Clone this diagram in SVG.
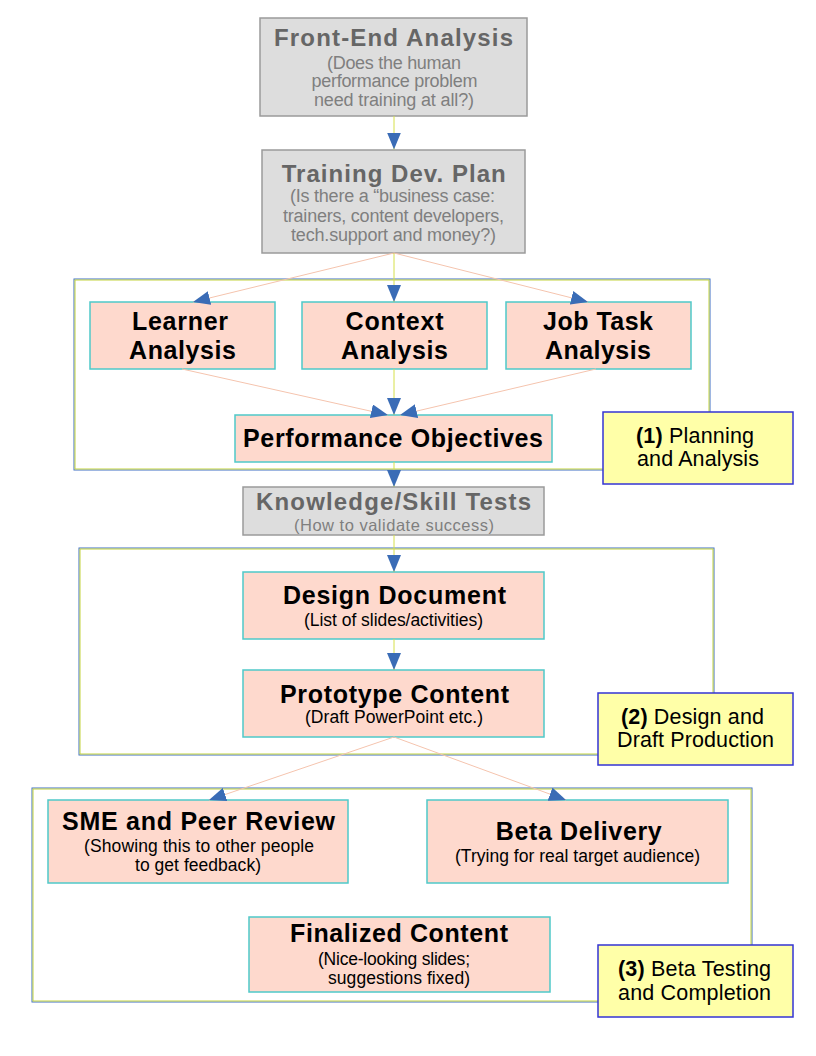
<svg xmlns="http://www.w3.org/2000/svg" width="816" height="1056" viewBox="0 0 816 1056">
<style>
  .gray { fill: #dddddd; stroke: #9a9a9a; stroke-width: 1.5; }
  .pink { fill: #fed9cd; stroke: #4fc9c9; stroke-width: 1.5; }
  .note { fill: #ffffa8; stroke: #3434d4; stroke-width: 1.5; }
  .frameA { fill: none; stroke: #3f6fc4; stroke-width: 1; }
  .frameB { fill: none; stroke: #c4d43c; stroke-width: 1; }
  .gt { font-family: "Liberation Sans", Arial, sans-serif; font-weight: bold; font-size: 24px; fill: #666666; text-anchor: middle; }
  .gs { font-family: "Liberation Sans", Arial, sans-serif; font-size: 18px; fill: #7f7f7f; text-anchor: middle; }
  .pt { font-family: "Liberation Sans", Arial, sans-serif; font-weight: bold; font-size: 25px; fill: #000000; text-anchor: middle; }
  .ps { font-family: "Liberation Sans", Arial, sans-serif; font-size: 17.5px; fill: #000000; text-anchor: middle; }
  .nt { font-family: "Liberation Sans", Arial, sans-serif; font-size: 21.5px; fill: #000000; text-anchor: middle; }
  .b { font-weight: bold; }
  .v { fill: none; stroke: #d6e04a; stroke-width: 1; marker-end: url(#ah); }
  .d { fill: none; stroke: #f5c4ae; stroke-width: 1; marker-end: url(#ah); }
</style>
<defs>
  <marker id="ah" markerUnits="userSpaceOnUse" viewBox="0 0 17 14" markerWidth="17" markerHeight="14" refX="17" refY="7" orient="auto">
    <path d="M0,0 L17,7 L0,14 z" fill="#3a6cb6"/>
  </marker>
</defs>
<rect width="816" height="1056" fill="#ffffff"/>

<g id="frame1">
  <rect class="frameA" x="74" y="279" width="636" height="191"/>
  <rect class="frameB" x="75" y="280" width="634" height="189"/>
</g>
<g id="frame2">
  <rect class="frameA" x="79" y="548" width="635" height="207"/>
  <rect class="frameB" x="80" y="549" width="633" height="205"/>
</g>
<g id="frame3">
  <rect class="frameA" x="32" y="788" width="720" height="214"/>
  <rect class="frameB" x="33" y="789" width="718" height="212"/>
</g>

<g id="front-end-analysis">
  <rect class="gray" x="260" y="18" width="267" height="98"/>
  <text class="gt" x="393.5" y="46" textLength="239">Front-End Analysis</text>
  <text class="gs" x="394" y="68.5" textLength="134">(Does the human</text>
  <text class="gs" x="394.5" y="87" textLength="166">performance problem</text>
  <text class="gs" x="394" y="105.5" textLength="160">need training at all?)</text>
</g>

<g id="training-dev-plan">
  <rect class="gray" x="262" y="150" width="263" height="103"/>
  <text class="gt" x="393.7" y="181.5" textLength="224">Training Dev. Plan</text>
  <text class="gs" x="392.5" y="202" textLength="205">(Is there a “business case:</text>
  <text class="gs" x="393.5" y="221.5" textLength="221">trainers, content developers,</text>
  <text class="gs" x="393.5" y="241" textLength="205">tech.support and money?)</text>
</g>

<g id="learner-analysis">
  <rect class="pink" x="90" y="302" width="185" height="67"/>
  <text class="pt" x="180" y="330" textLength="96">Learner</text>
  <text class="pt" x="182.5" y="358.5" textLength="107">Analysis</text>
</g>

<g id="context-analysis">
  <rect class="pink" x="302" y="302" width="185" height="67"/>
  <text class="pt" x="394.5" y="330" textLength="98">Context</text>
  <text class="pt" x="394.5" y="358.5" textLength="107">Analysis</text>
</g>

<g id="job-task-analysis">
  <rect class="pink" x="506" y="302" width="185" height="67"/>
  <text class="pt" x="598" y="330" textLength="110">Job Task</text>
  <text class="pt" x="598" y="358.5" textLength="106">Analysis</text>
</g>

<g id="performance-objectives">
  <rect class="pink" x="235" y="415" width="317" height="47"/>
  <text class="pt" x="393" y="446.5" textLength="300">Performance Objectives</text>
</g>

<g id="label-planning">
  <rect class="note" x="603" y="412" width="190" height="72"/>
  <text class="nt" x="695" y="443" textLength="118"><tspan class="b">(1)</tspan> Planning</text>
  <text class="nt" x="698" y="466" textLength="122">and Analysis</text>
</g>

<g id="knowledge-skill-tests">
  <rect class="gray" x="243" y="487" width="301" height="48"/>
  <text class="gt" x="393.5" y="509.5" textLength="275">Knowledge/Skill Tests</text>
  <text class="gs" style="font-size:16.5px" x="394" y="530.5" textLength="200">(How to validate success)</text>
</g>

<g id="design-document">
  <rect class="pink" x="243" y="572" width="301" height="67"/>
  <text class="pt" x="394.5" y="604" textLength="223">Design Document</text>
  <text class="ps" x="393.5" y="625.5" textLength="179">(List of slides/activities)</text>
</g>

<g id="prototype-content">
  <rect class="pink" x="243" y="670" width="301" height="67"/>
  <text class="pt" x="394.5" y="702.5" textLength="229">Prototype Content</text>
  <text class="ps" x="394" y="723" textLength="178">(Draft PowerPoint etc.)</text>
</g>

<g id="label-design">
  <rect class="note" x="598" y="693" width="195" height="72"/>
  <text class="nt" x="692.5" y="724" textLength="143"><tspan class="b">(2)</tspan> Design and</text>
  <text class="nt" x="695.5" y="747" textLength="157">Draft Production</text>
</g>

<g id="sme-peer-review">
  <rect class="pink" x="48" y="800" width="300" height="83"/>
  <text class="pt" x="198.5" y="830" textLength="273">SME and Peer Review</text>
  <text class="ps" x="199" y="851.5" textLength="230">(Showing this to other people</text>
  <text class="ps" x="198" y="870.5" textLength="126">to get feedback)</text>
</g>

<g id="beta-delivery">
  <rect class="pink" x="427" y="800" width="301" height="83"/>
  <text class="pt" x="578.7" y="840" textLength="166">Beta Delivery</text>
  <text class="ps" x="577.5" y="861.5" textLength="245">(Trying for real target audience)</text>
</g>

<g id="finalized-content">
  <rect class="pink" x="249" y="917" width="301" height="75"/>
  <text class="pt" x="399" y="941.5" textLength="218">Finalized Content</text>
  <text class="ps" x="394" y="965" textLength="152">(Nice-looking slides;</text>
  <text class="ps" x="399" y="984" textLength="142">suggestions fixed)</text>
</g>

<g id="label-beta">
  <rect class="note" x="598" y="945" width="195" height="72"/>
  <text class="nt" x="694.5" y="976" textLength="153"><tspan class="b">(3)</tspan> Beta Testing</text>
  <text class="nt" x="694.5" y="1000" textLength="153">and Completion</text>
</g>

<g id="connectors">
  <path class="v" d="M394,116 L394,149.5"/>
  <path class="d" d="M394,253 L193,302"/>
  <path class="v" d="M394,253 L394,302"/>
  <path class="d" d="M394,253 L588,302"/>
  <path class="d" d="M182,369 L388,415"/>
  <path class="v" d="M394,369 L394,415"/>
  <path class="d" d="M596,369 L400,415"/>
  <path class="v" d="M394,462 L394,487"/>
  <path class="v" d="M394,535 L394,572"/>
  <path class="v" d="M394,639 L394,670"/>
  <path class="d" d="M394,737 L209,800"/>
  <path class="d" d="M394,737 L566,800"/>
</g>
</svg>
